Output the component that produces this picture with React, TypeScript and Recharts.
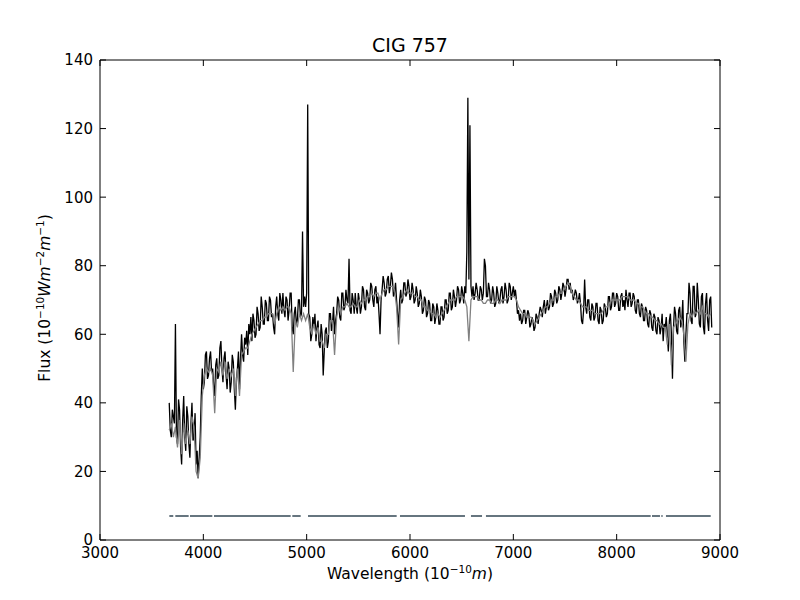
import { LineChart, Line, XAxis, YAxis, ReferenceArea } from 'recharts'

// Observed spectrum: sampled every 10 Å from 3670 Å, one row per 200 Å
const OBS_START = 3670
const OBS_STEP = 10
const observedFlux = [
  40, 32, 30, 38, 36, 34, 63, 30, 28, 41, 38, 27, 22, 35, 42, 30, 26, 39, 36, 28,
  24, 34, 40, 29, 30, 37, 22, 26, 18, 24, 30, 42, 50, 44, 46, 54, 55, 47, 48, 53,
  55, 49, 50, 45, 42, 51, 53, 47, 48, 56, 58, 50, 46, 53, 55, 48, 44, 52, 50, 43,
  46, 54, 52, 44, 38, 47, 50, 55, 44, 53, 60, 54, 52, 59, 57, 61, 54, 63, 60, 65,
  58, 66, 64, 59, 60, 68, 66, 61, 62, 71, 68, 63, 63, 70, 69, 64, 64, 71, 70, 65,
  66, 62, 60, 68, 71, 66, 64, 72, 70, 66, 72, 67, 65, 71, 70, 64, 67, 72, 72, 62,
  60, 66, 68, 63, 64, 70, 70, 65, 66, 90, 68, 71, 68, 72, 127, 66, 65, 58, 60, 65,
  62, 66, 58, 62, 64, 57, 56, 63, 60, 48, 55, 61, 62, 56, 58, 66, 66, 61, 63, 68,
  60, 64, 66, 71, 70, 65, 64, 72, 72, 67, 68, 73, 70, 69, 82, 67, 66, 72, 70, 66,
  72, 68, 66, 72, 70, 66, 68, 74, 73, 68, 67, 73, 72, 69, 70, 75, 74, 70, 68, 73,
  74, 69, 71, 66, 60, 70, 73, 77, 75, 71, 72, 76, 77, 72, 74, 78, 76, 71, 72, 75,
  70, 66, 62, 70, 73, 69, 70, 75, 75, 71, 72, 76, 74, 70, 71, 75, 73, 69, 70, 74,
  72, 68, 69, 73, 71, 66, 67, 71, 70, 65, 66, 70, 69, 64, 64, 69, 68, 63, 65, 69,
  67, 63, 63, 68, 68, 64, 65, 70, 70, 66, 67, 72, 72, 67, 68, 73, 71, 68, 70, 74,
  73, 69, 70, 74, 72, 69, 74, 72, 84, 129, 76, 121, 74, 71, 74, 70, 72, 75, 73, 70,
  70, 74, 73, 70, 72, 82, 80, 71, 71, 75, 73, 69, 70, 74, 72, 68, 69, 74, 72, 69,
  70, 73, 74, 69, 71, 75, 73, 69, 70, 75, 74, 70, 72, 74, 71, 73, 70, 66, 67, 64,
  66, 63, 64, 67, 67, 63, 65, 67, 66, 62, 63, 65, 64, 61, 62, 66, 65, 63, 66, 68,
  67, 65, 68, 70, 66, 68, 70, 67, 68, 72, 71, 68, 69, 73, 72, 69, 70, 74, 73, 70,
  72, 75, 74, 71, 73, 76, 76, 73, 75, 72, 73, 70, 71, 73, 72, 69, 70, 72, 69, 64,
  63, 67, 76, 68, 66, 70, 70, 65, 64, 69, 68, 64, 65, 69, 69, 64, 63, 68, 67, 63,
  64, 69, 68, 65, 66, 71, 71, 67, 68, 72, 72, 68, 69, 72, 71, 67, 67, 71, 72, 68,
  70, 67, 73, 70, 68, 72, 72, 68, 69, 72, 71, 67, 66, 70, 70, 66, 65, 69, 68, 64,
  64, 68, 67, 63, 62, 67, 66, 62, 61, 66, 65, 61, 60, 65, 64, 60, 62, 66, 58, 63,
  62, 65, 60, 55, 64, 66, 60, 47, 62, 68, 66, 61, 60, 67, 68, 62, 64, 70, 58, 52,
  60, 66, 66, 75, 72, 64, 63, 74, 74, 65, 66, 75, 70, 63, 62, 71, 72, 62, 60, 69,
  72, 64, 61, 70, 71, 62,
]

// Synthetic fit: sampled every 20 Å from 3670 Å, one row per 200 Å
const MODEL_START = 3670
const MODEL_STEP = 20
const modelFlux = [
  32, 34, 30, 33, 27, 35, 25, 34, 28, 32,
  28, 36, 33, 20, 18, 24, 42, 48, 50, 49,
  50, 48, 37, 50, 49, 52, 48, 52, 47, 50,
  48, 50, 42, 50, 42, 54, 55, 56, 56, 58,
  60, 61, 62, 63, 64, 64, 65, 65, 66, 66,
  66, 63, 66, 68, 67, 68, 67, 68, 68, 66,
  49, 64, 62, 66, 64, 66, 64, 66, 62, 60,
  63, 60, 62, 58, 58, 56, 60, 60, 64, 64,
  54, 65, 68, 66, 68, 68, 69, 68, 68, 69,
  68, 68, 70, 69, 70, 70, 71, 71, 72, 71,
  72, 72, 70, 72, 73, 73, 74, 74, 74, 73,
  68, 57, 70, 71, 72, 73, 72, 72, 72, 71,
  71, 70, 70, 68, 68, 67, 67, 66, 66, 65,
  66, 65, 66, 67, 68, 69, 70, 70, 70, 71,
  71, 71, 71, 70, 68, 58, 70, 71, 71, 71,
  70, 70, 69, 69, 70, 70, 69, 69, 70, 70,
  69, 70, 70, 70, 71, 71, 71, 71, 70, 68,
  67, 66, 66, 65, 65, 65, 64, 63, 64, 65,
  66, 67, 68, 68, 69, 70, 70, 71, 71, 72,
  72, 73, 74, 75, 74, 72, 71, 70, 70, 69,
  68, 68, 68, 67, 67, 67, 66, 66, 66, 66,
  67, 68, 68, 69, 70, 70, 70, 70, 70, 71,
  71, 71, 71, 70, 70, 70, 69, 69, 68, 68,
  67, 66, 66, 65, 65, 64, 64, 63, 63, 62,
  62, 57, 63, 51, 62, 63, 64, 65, 64, 60,
  52, 63, 66, 65, 67, 66, 67, 66, 68, 66,
  66, 65, 66,
]

// fitted wavelength windows (mask), drawn as a flat line
const maskStarts = [3671, 3729, 3871, 4103, 4861, 5013, 5903, 6590, 6735, 8342, 8432, 8477]
const maskEnds = [3709, 3858, 4087, 4845, 4942, 5871, 6532, 6697, 8329, 8419, 8445, 8910]
const MASK_LEVEL = 7

const xTicks = [3000, 4000, 5000, 6000, 7000, 8000, 9000]
const yTicks = [0, 20, 40, 60, 80, 100, 120, 140]

const obsData = observedFlux.map((f, i) => ({ wl: OBS_START + i * OBS_STEP, flux: f }))
const modelData = modelFlux.map((f, i) => ({ wl: MODEL_START + i * MODEL_STEP, flux: f }))

const maskData = maskStarts.flatMap((s, i) => [
  { wl: s, flux: MASK_LEVEL },
  { wl: maskEnds[i], flux: MASK_LEVEL },
  { wl: maskEnds[i] + 1, flux: null },
])

const PLOT = { left: 100, right: 720, top: 60, bottom: 540 }
const TICK_LEN = 6
const FONT = 'DejaVu Sans, sans-serif'

function XTick({ x, payload }: any) {
  return (
    <g>
      <line x1={x} x2={x} y1={PLOT.bottom} y2={PLOT.bottom - TICK_LEN} stroke="#000" />
      <line x1={x} x2={x} y1={PLOT.top} y2={PLOT.top + TICK_LEN} stroke="#000" />
      <text x={x} y={558} textAnchor="middle" fontSize={15} fontFamily={FONT} fill="#000">
        {payload.value}
      </text>
    </g>
  )
}

function YTick({ y, payload }: any) {
  return (
    <g>
      <line x1={PLOT.left} x2={PLOT.left + TICK_LEN} y1={y} y2={y} stroke="#000" />
      <line x1={PLOT.right} x2={PLOT.right - TICK_LEN} y1={y} y2={y} stroke="#000" />
      <text x={93} y={y} dy="0.36em" textAnchor="end" fontSize={15} fontFamily={FONT} fill="#000">
        {payload.value}
      </text>
    </g>
  )
}

const xLabel = () => (
  <text x={410} y={579} textAnchor="middle" fontSize={15.5} fontFamily={FONT} fill="#000">
    Wavelength (10
    <tspan dy={-6} fontSize={10.5}>−10</tspan>
    <tspan dy={6} fontStyle="italic">m</tspan>)
  </text>
)

const yLabel = () => (
  <text
    x={50}
    y={298}
    transform="rotate(-90, 50, 298)"
    textAnchor="middle"
    fontSize={15.5}
    fontFamily={FONT}
    fill="#000"
  >
    Flux (10
    <tspan dy={-6} fontSize={10.5}>−10</tspan>
    <tspan dy={6} fontStyle="italic">Wm</tspan>
    <tspan dy={-6} fontSize={10.5}>−2</tspan>
    <tspan dy={6} fontStyle="italic">m</tspan>
    <tspan dy={-6} fontSize={10.5}>−1</tspan>
    <tspan dy={6}>)</tspan>
  </text>
)

export default function App() {
  return (
    <div style={{ width: 800, height: 600, background: '#fff', position: 'relative' }}>
      <style>{'body{margin:0}'}</style>
      <LineChart width={800} height={600} margin={{ top: 60, right: 80, bottom: 0, left: 0 }}>
        <XAxis
          type="number"
          dataKey="wl"
          domain={[3000, 9000]}
          ticks={xTicks}
          interval={0}
          allowDataOverflow
          height={60}
          axisLine={false}
          tickLine={false}
          tick={<XTick />}
          label={{ content: xLabel }}
        />
        <YAxis
          type="number"
          domain={[0, 140]}
          ticks={yTicks}
          interval={0}
          allowDataOverflow
          width={100}
          axisLine={false}
          tickLine={false}
          tick={<YTick />}
          label={{ content: yLabel }}
        />
        <Line
          data={maskData}
          dataKey="flux"
          stroke="#66757f"
          strokeWidth={2}
          dot={false}
          connectNulls={false}
          isAnimationActive={false}
        />
        <Line
          data={obsData}
          dataKey="flux"
          type="linear"
          stroke="#000"
          strokeWidth={1.3}
          dot={false}
          isAnimationActive={false}
        />
        <Line
          data={modelData}
          dataKey="flux"
          type="linear"
          stroke="#808080"
          strokeWidth={1.3}
          dot={false}
          isAnimationActive={false}
        />
        <ReferenceArea x1={3000} x2={9000} y1={0} y2={140} fill="none" stroke="#000" strokeWidth={1} />
      </LineChart>
      <div
        style={{
          position: 'absolute',
          top: 34,
          left: 0,
          width: 820,
          textAlign: 'center',
          fontFamily: FONT,
          fontSize: 19,
          lineHeight: '22px',
          color: '#000',
        }}
      >
        CIG 757
      </div>
    </div>
  )
}
